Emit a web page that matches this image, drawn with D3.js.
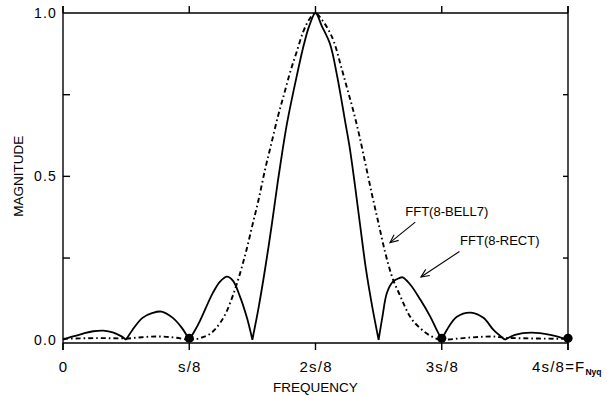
<!DOCTYPE html>
<html>
<head>
<meta charset="utf-8">
<script src="https://cdn.jsdelivr.net/npm/d3@7"></script>
<style>
  html, body { margin: 0; padding: 0; background: #fff; }
  svg { display: block; }
  text { font-family: "Liberation Sans", Arial, Helvetica, sans-serif; fill: #000; }
</style>
</head>
<body>
<svg id="chart" width="607" height="396"></svg>
<script>
// ---- data (frequency in units of s/8, magnitude) ----
const xTickValues = [0, 1, 2, 3, 4];
const xTickLabels = ["0", "s/8", "2s/8", "3s/8", "4s/8=F"];
const xLastSub = "Nyq";
const yTickValues = [0.25, 0.5, 0.75];
const yLabelValues = [0, 0.5, 1.0];
const yLabelText = ["0.0", "0.5", "1.0"];

const rectPoints = [
  [0,0],[0.08,0.01],[0.16,0.019],[0.24,0.026],[0.32,0.028],[0.40,0.022],[0.46,0.011],[0.5,0],
  [0.55,0.03],[0.63,0.067],[0.71,0.082],[0.78,0.086],[0.87,0.067],[0.94,0.037],[1.0,0],
  [1.04,0.025],[1.085,0.058],[1.188,0.144],[1.244,0.178],[1.30,0.193],[1.347,0.18],[1.402,0.132],[1.457,0.067],[1.5,0],
  [1.55,0.10],[1.6,0.215],[1.655,0.355],[1.7,0.48],[1.743,0.59],[1.778,0.67],[1.853,0.81],[1.909,0.905],[1.95,0.96],[2.0,1.0],
  [2.05,0.96],[2.115,0.905],[2.17,0.81],[2.234,0.67],[2.27,0.59],[2.31,0.48],[2.352,0.355],[2.40,0.215],[2.45,0.10],[2.5,0],
  [2.53,0.07],[2.566,0.144],[2.614,0.178],[2.66,0.188],[2.69,0.191],[2.75,0.169],[2.83,0.123],[2.91,0.07],[2.96,0.03],[3.0,0],
  [3.04,0.03],[3.12,0.07],[3.23,0.083],[3.33,0.067],[3.41,0.03],[3.5,0],
  [3.58,0.015],[3.71,0.022],[3.86,0.015],[4.0,0]
];

const bellPoints = [
  [0,0.003],[0.3,0.005],[0.5,0.004],[0.6,0.007],[0.75,0.01],[0.9,0.006],[1.0,0],
  [1.085,0.005],[1.2,0.03],[1.3,0.09],[1.35,0.14],[1.4,0.20],[1.45,0.27],[1.5,0.35],[1.55,0.43],
  [1.6,0.52],[1.65,0.60],[1.7,0.68],[1.75,0.75],[1.8,0.82],[1.85,0.88],[1.9,0.94],[1.95,0.98],[2.0,1.0],
  [2.05,0.98],[2.1,0.95],[2.147,0.911],[2.2,0.84],[2.25,0.77],[2.3,0.70],[2.35,0.62],[2.4,0.53],
  [2.45,0.44],[2.5,0.355],[2.55,0.27],[2.6,0.20],[2.67,0.135],[2.75,0.07],[2.83,0.035],[2.92,0.01],[3.0,0],
  [3.2,0.006],[3.4,0.01],[3.5,0.006],[3.7,0.004],[4.0,0.003]
];

const dotPoints = [[1,0],[3,0],[4,0]];

const annotations = [
  { text: "FFT(8-BELL7)", label: [3.04, 0.38], from: [2.79, 0.36], to: [2.59, 0.297] },
  { text: "FFT(8-RECT)",  label: [3.46, 0.29], from: [3.14, 0.27], to: [2.835, 0.192] }
];

// ---- layout ----
const svg = d3.select("#chart");
const x = d3.scaleLinear().domain([0, 4]).range([63, 568]);
const y = d3.scaleLinear().domain([-0.01, 1.0]).range([343, 13]);
const ext = 7;

const g = svg.append("g");

// frame
const frame = g.append("g").attr("stroke", "#000").attr("stroke-width", 1.4).attr("fill", "none");
frame.append("line").attr("x1", x(0)).attr("x2", x(4)).attr("y1", y(1)).attr("y2", y(1));
frame.append("line").attr("x1", x(0)).attr("x2", x(4)).attr("y1", y(-0.01)).attr("y2", y(-0.01));
frame.append("line").attr("x1", x(0)).attr("x2", x(0)).attr("y1", y(1) - ext).attr("y2", y(-0.01) + ext);
frame.append("line").attr("x1", x(4)).attr("x2", x(4)).attr("y1", y(1) - ext).attr("y2", y(-0.01) + ext);

// x ticks (outward top and bottom)
xTickValues.forEach(v => {
  frame.append("line").attr("x1", x(v)).attr("x2", x(v)).attr("y1", y(1)).attr("y2", y(1) - ext);
  frame.append("line").attr("x1", x(v)).attr("x2", x(v)).attr("y1", y(-0.01)).attr("y2", y(-0.01) + ext);
});
// y ticks (inward)
yTickValues.forEach(v => {
  frame.append("line").attr("x1", x(0)).attr("x2", x(0) + 7).attr("y1", y(v)).attr("y2", y(v));
  frame.append("line").attr("x1", x(4)).attr("x2", x(4) - 5).attr("y1", y(v)).attr("y2", y(v));
});

// y labels
yLabelValues.forEach((v, i) => {
  g.append("text")
    .attr("x", x(0) - 6)
    .attr("y", y(v) + 5)
    .attr("text-anchor", "end")
    .attr("font-size", 14)
    .attr("letter-spacing", 1.2)
    .text(yLabelText[i]);
});

// x labels
xTickValues.forEach((v, i) => {
  const t = g.append("text")
    .attr("y", 372)
    .attr("font-size", 15)
    .attr("letter-spacing", 1.2);
  if (i === xTickValues.length - 1) {
    t.attr("x", x(v) - 36).attr("text-anchor", "start").text(xTickLabels[i]);
    t.append("tspan").attr("dy", 3).attr("font-size", 8.5).attr("font-weight", "bold")
      .attr("letter-spacing", 0).text(xLastSub);
  } else {
    t.attr("x", x(v) + 0.6).attr("text-anchor", "middle").text(xTickLabels[i]);
  }
});

// axis titles
g.append("text").attr("x", (x(0) + x(4)) / 2).attr("y", 392)
  .attr("text-anchor", "middle").attr("font-size", 13.5).text("FREQUENCY");
g.append("text").attr("transform", `translate(23,${y(0.5)}) rotate(-90)`)
  .attr("text-anchor", "middle").attr("font-size", 13.5).text("MAGNITUDE");

// curves
const lobe = d3.line().x(d => x(d[0])).y(d => y(d[1])).curve(d3.curveCatmullRom.alpha(0.5));
// split rect series into lobes at zero crossings
const lobes = [];
let cur = [];
rectPoints.forEach((p, i) => {
  cur.push(p);
  if (p[1] === 0 && i > 0 && i < rectPoints.length - 1) {
    lobes.push(cur);
    cur = [p];
  }
});
if (cur.length > 1) lobes.push(cur);

g.append("path")
  .attr("d", lobes.map(l => lobe(l)).join(""))
  .attr("fill", "none").attr("stroke", "#000").attr("stroke-width", 1.8)
  .attr("stroke-linejoin", "round");

const bellLine = d3.line().x(d => x(d[0])).y(d => y(d[1])).curve(d3.curveMonotoneX);
g.append("path")
  .datum(bellPoints)
  .attr("d", bellLine)
  .attr("fill", "none").attr("stroke", "#000").attr("stroke-width", 1.9)
  .attr("stroke-dasharray", "5,3,1.6,3");

// dots
g.selectAll("circle.dot").data(dotPoints).enter().append("circle")
  .attr("cx", d => x(d[0])).attr("cy", d => y(d[1]) - 1.5).attr("r", 4.6).attr("fill", "#000");

// annotations
annotations.forEach(a => {
  g.append("text").attr("x", x(a.label[0])).attr("y", y(a.label[1]))
    .attr("text-anchor", "middle").attr("font-size", 13).text(a.text);
  const x1 = x(a.from[0]), y1 = y(a.from[1]), x2 = x(a.to[0]), y2 = y(a.to[1]);
  const ang = Math.atan2(y2 - y1, x2 - x1);
  const len = 9, spread = 0.42;
  const pa = [x2 - len * Math.cos(ang - spread), y2 - len * Math.sin(ang - spread)];
  const pb = [x2 - len * Math.cos(ang + spread), y2 - len * Math.sin(ang + spread)];
  const ag = g.append("g").attr("stroke", "#000").attr("stroke-width", 1.1).attr("fill", "none");
  ag.append("line").attr("x1", x1).attr("y1", y1).attr("x2", x2).attr("y2", y2);
  ag.append("path").attr("d", `M${pa[0]},${pa[1]}L${x2},${y2}L${pb[0]},${pb[1]}`);
});
</script>
</body>
</html>
